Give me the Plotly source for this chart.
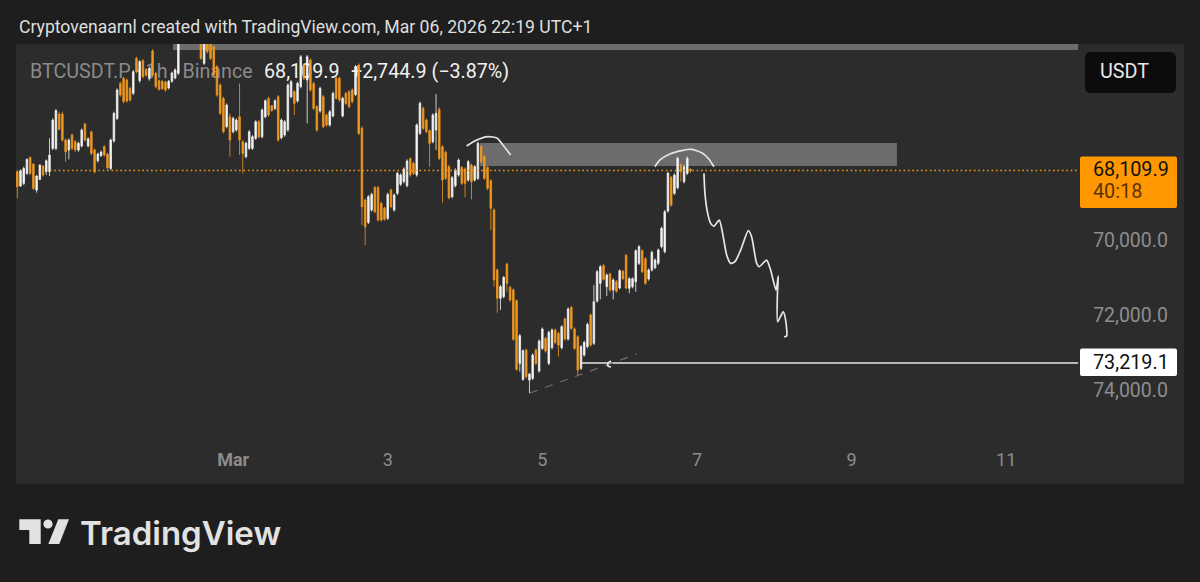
import pandas as pd
import plotly.graph_objects as go

ORANGE = "#f0981f"
WHITE = "#f2f2f2"
PANEL = "#2c2c2c"
PAGE = "#1e1e1e"
GREY = "#8c8c8c"

opens = [
    68143,68523,68452,68187,67762,67939,68630,68346,67992,68143,
    68143,67523,67523,66612,66612,67302,67568,67169,67346,67568,
    67461,66877,67461,67090,67568,67851,67718,67479,67674,68054,
    67329,66727,65798,65665,65709,65930,66063,65134,65727,65196,
    65426,65674,64939,65532,65727,65744,65762,65921,65744,65656,
    65532,64650,64500,64620,64450,64350,64400,64700,65267,64600,
    64750,64824,65355,65842,66196,66948,66683,67081,67037,66683,
    67346,67745,67523,67523,67258,66815,67214,66683,66196,66390,
    66470,66152,67240,67169,67037,66152,66019,66267,65886,65311,
    65709,65178,65798,66417,66532,66152,66638,66904,66665,65665,
    65665,66665,66063,66019,65975,66090,65311,66992,68894,69487,
    69160,68558,68558,68983,69106,69381,68629,69160,68717,68478,
    68407,68513,67797,67921,68230,67124,66460,66770,67053,67345,
    67036,66487,67478,67628,68009,68806,68513,68230,68027,68071,
    68363,67965,68363,68319,67478,67744,68027,68381,69160,70751,
    71503,71459,70592,71211,71282,71565,73229,73654,72875,73672,
    73627,72875,73433,72831,72565,73229,72813,72344,72433,72813,
    72052,72583,71742,72317,72521,73362,73008,72787,71946,72698,
    71574,71105,70636,71194,70857,71282,71061,71229,70786,70362,
    71238,71194,71061,70574,70238,70450,70990,70751,70689,70574,
    70133,70265,69186,68292,68717,68566,67964,68407,68186,68079,
]
closes = [
    68541,68116,68054,67815,68187,68585,68258,67966,68231,67851,
    67700,66771,66523,67019,67302,67612,67302,67523,67568,67390,
    67037,67302,67267,67656,68143,67674,67620,67700,68037,67302,
    66594,65975,66107,66284,66267,66240,65488,65488,65222,65621,
    65585,65399,65576,65886,65957,65939,65975,65744,65523,65444,
    64600,64500,64620,64450,64350,64400,64650,65134,64720,64957,
    65134,65576,66107,66594,67081,66373,67302,66727,66771,67302,
    67656,67390,67081,67214,66815,67214,66505,66258,66638,66523,
    66258,67302,66771,66815,65842,65753,66329,65798,65090,65665,
    65090,65975,66461,67037,65930,66948,66904,66550,66063,66196,
    66240,66196,66329,66417,66284,65355,67125,69071,69602,68806,
    68744,69204,69425,69425,69407,68744,69071,68761,68186,68230,
    68071,67859,68230,68186,66903,66328,66991,67080,67390,66637,
    66593,67788,68363,68319,68832,68301,68098,67832,68452,68452,
    67876,68407,68009,67390,67876,68319,68584,69115,71017,71503,
    71194,70946,71105,71548,72592,73388,72494,72893,73583,73512,
    73008,73229,72636,72317,72902,72406,72344,72671,72742,72256,
    72583,71786,72300,72831,73406,72787,72671,72194,72742,71592,
    70795,70663,70999,70884,71282,71017,71317,70769,70981,71229,
    70981,70981,70238,70132,70795,71105,70751,70282,70486,70220,
    69646,69203,68186,69026,68230,67787,68141,68009,67787,68110,
]
lows = [
    68099,68081,68010,67789,67745,67922,68231,67948,67966,67815,
    67258,66727,66479,66550,66550,67258,67258,67125,67302,67346,
    66992,66842,67231,67054,67523,67638,67585,67435,67638,67258,
    66550,65930,65753,65621,65665,65886,65444,65090,65178,65151,
    65399,65355,64895,65488,65691,65709,65727,65709,65488,65399,
    64500,64450,64420,64400,64300,64300,64350,64650,64680,64550,
    64650,64780,65311,65798,66152,66329,66594,66683,66727,65798,
    67302,67346,67037,67169,66771,66771,66461,66222,66152,66373,
    66222,66107,66727,66771,65798,65709,65975,65753,65045,65267,
    65045,65134,65753,66373,65886,66107,66594,66505,66019,65621,
    65621,66152,66019,65975,65930,65311,65267,66930,68850,68761,
    68699,68522,68522,68938,69071,68699,68584,68717,68142,68186,
    68027,67814,67761,67876,66859,66283,66416,66726,67018,66593,
    66080,66434,67434,67584,67965,68257,68053,67788,67991,68027,
    67832,67921,67965,67345,67434,67699,67991,68345,69115,70707,
    71149,70910,70556,71176,71238,71530,72450,72857,72831,73477,
    72963,72831,72592,72273,72521,72362,72300,72300,72388,72211,
    72008,71742,71707,72273,72477,72742,72627,72149,71902,71149,
    70751,70618,70592,70840,70822,70972,71017,70733,70751,70326,
    70946,70946,70202,70087,70202,70415,70707,70238,70441,70176,
    69602,69159,68141,68256,68186,67743,67920,67964,67743,68053,
]
highs = [
    68851,68541,68497,68231,68231,68630,68700,68364,68276,68231,
    68258,67568,67568,67037,67346,67877,67815,67568,67612,67612,
    67497,67346,67497,67700,68187,67904,67745,67745,68081,68099,
    67373,66771,66152,66329,66311,66284,66107,65532,65780,65665,
    65621,65727,65621,65930,65992,65975,66019,65957,65780,65691,
    65576,64700,64680,64700,64500,64450,64700,65178,65311,65001,
    65178,65621,66152,66638,67125,66992,67745,67125,67081,67700,
    68187,67789,67568,67568,67302,67258,67258,66727,66683,66550,
    66505,67346,67284,67214,67081,66196,66638,66311,65930,65709,
    66860,66019,66505,67081,66576,66992,66948,66948,66700,66222,
    66284,66700,66373,66461,66329,66134,67169,69559,70089,69531,
    69204,69248,69469,69469,69443,69425,69115,69204,68761,68522,
    68452,68558,68275,68230,68275,67168,67036,67124,68009,67390,
    67567,67832,68965,68363,68876,68850,68558,68275,68496,68823,
    68407,68876,68407,68363,67921,68363,68629,69691,71194,71884,
    71813,71503,71326,71592,72627,73424,73450,73689,73627,74026,
    73672,73273,73477,72875,72946,73273,72857,72716,73052,72857,
    72627,72627,72344,72875,73539,73406,73052,72831,72787,72742,
    71618,71530,71034,71441,71326,71530,71353,71264,71017,71264,
    71371,71238,71326,70618,70840,71149,71034,70795,70733,70618,
    70177,70310,69230,69071,68761,68610,68407,68451,68230,68168,
]
times = pd.date_range("2026-02-26 05:00", periods=len(opens), freq="h")

last_price = 68109.9
level_price = 73219.1
y_ticks = [70000, 72000, 74000]
x_ticks = ["2026-03-01", "2026-03-03", "2026-03-05", "2026-03-07", "2026-03-09", "2026-03-11"]
x_labels = ["<b>Mar</b>", "3", "5", "7", "9", "11"]

# hand drawn bits on the chart
arc1_t = ["2026-03-04 00:30", "2026-03-04 02:27", "2026-03-04 04:37", "2026-03-04 07:06",
          "2026-03-04 09:54", "2026-03-04 11:46", "2026-03-04 14:09"]
arc1_p = [67460, 67354, 67266, 67213, 67248, 67433, 67699]
arc2_t = ["2026-03-06 10:58", "2026-03-06 12:31", "2026-03-06 15:37", "2026-03-06 19:15",
          "2026-03-06 22:21", "2026-03-07 01:28", "2026-03-07 03:25", "2026-03-07 05:17"]
arc2_p = [68009, 67831, 67672, 67584, 67547, 67638, 67778, 68009]
path_t = ["2026-03-07 02:10", "2026-03-07 02:29", "2026-03-07 03:13", "2026-03-07 04:15",
          "2026-03-07 05:17", "2026-03-07 06:56", "2026-03-07 07:58", "2026-03-07 09:13",
          "2026-03-07 10:27", "2026-03-07 11:48", "2026-03-07 13:34", "2026-03-07 15:56",
          "2026-03-07 16:58", "2026-03-07 18:32", "2026-03-07 19:21", "2026-03-07 21:38",
          "2026-03-07 22:52", "2026-03-08 00:32", "2026-03-08 01:15", "2026-03-08 00:57",
          "2026-03-08 01:03", "2026-03-08 02:48", "2026-03-08 03:32", "2026-03-08 03:51",
          "2026-03-08 03:01"]
path_p = [68186, 68717, 69203, 69513, 69584, 69425, 69779, 70354, 70575, 70531, 70221, 69708,
          69867, 70575, 70664, 70487, 70752, 71283, 70911, 71460, 72124, 71858, 72080, 72504, 72522]
blob_t = ["2026-03-05 21:18", "2026-03-05 20:22", "2026-03-05 20:22", "2026-03-05 21:18"]
blob_p = [73166, 73219, 73299, 73325]
trend_t = ["2026-03-04 20:10", "2026-03-06 05:22"]
trend_p = [74015, 72980]
line_end = "2026-03-11 22:20"


# pixel -> paper, plot area is 16..1184 by 44..484
def px(x):
    return (x - 16) / 1168


def py(y):
    return (484 - y) / 440


def poly(points):
    return "M " + " L ".join(f"{px(x)},{py(y)}" for x, y in points) + " Z"


def rounded(x0, y0, x1, y1, r):
    a, b, c, d = px(x0), px(x1), py(y0), py(y1)
    rx, ry = r / 1168, r / 440
    return (f"M {a+rx},{c} L {b-rx},{c} Q {b},{c} {b},{c-ry} L {b},{d+ry} Q {b},{d} {b-rx},{d} "
            f"L {a+rx},{d} Q {a},{d} {a},{d+ry} L {a},{c-ry} Q {a},{c} {a+rx},{c} Z")


def pen(t, p, color="#e6e6e6", width=1.7, dash=None, spline=True):
    return go.Scatter(x=t, y=p, mode="lines", hoverinfo="skip",
                      line=dict(color=color, width=width, dash=dash,
                                shape="spline" if spline else "linear", smoothing=0.6))


fig = go.Figure()

# axis is inverted so a "rising" price draws downward: that one is the orange candle
fig.add_trace(go.Candlestick(
    x=times, open=opens, high=highs, low=lows, close=closes,
    increasing=dict(line=dict(color=ORANGE, width=0.8), fillcolor=ORANGE),
    decreasing=dict(line=dict(color=WHITE, width=0.8), fillcolor=WHITE),
    whiskerwidth=0, hoverinfo="skip",
))

fig.add_trace(pen(["2026-02-26 15:07", line_end], [last_price, last_price],
                  color=ORANGE, width=1.6, dash="1.6px,2.8px", spline=False))
fig.add_trace(pen(["2026-03-05 12:17", line_end], [level_price, level_price], spline=False))
fig.add_trace(pen(trend_t, trend_p, color="#6f6f6f", width=1.2, dash="8px,8px", spline=False))
fig.add_trace(pen(blob_t, blob_p))
fig.add_trace(pen(arc1_t, arc1_p))
fig.add_trace(pen(arc2_t, arc2_p))
fig.add_trace(pen(path_t, path_p))

shapes = [
    # zones sit under the candles
    dict(type="rect", layer="below", xref="x", yref="y", x0="2026-03-04 04:38", x1="2026-03-09 14:05",
         y0=67380, y1=67991, fillcolor="#6c6c6c", line_width=0),
    dict(type="rect", layer="below", xref="x", yref="y", x0="2026-02-28 05:20", x1=line_end,
         y0=64600, y1=64912, fillcolor="#6c6c6c", line_width=0),
    # tags
    dict(type="path", xref="paper", yref="paper", path=rounded(1085, 52, 1176, 93, 6),
         fillcolor="#0c0c0c", line_width=0),
    dict(type="path", xref="paper", yref="paper", path=rounded(1080, 156.5, 1177, 208, 2),
         fillcolor="#ff9800", line_width=0),
    dict(type="path", xref="paper", yref="paper", path=rounded(1080, 348.5, 1177, 376, 2),
         fillcolor="#ffffff", line_width=0),
    # logo
    dict(type="path", xref="paper", yref="paper", fillcolor="#e2e2e2", line_width=0,
         path=poly([(19.3, 519.3), (40.7, 519.3), (40.7, 544), (29.3, 544), (29.3, 530), (19.3, 530)])),
    dict(type="path", xref="paper", yref="paper", fillcolor="#e2e2e2", line_width=0,
         path=poly([(58.3, 519.3), (69, 519.3), (59.3, 544), (48.3, 544)])),
    dict(type="circle", xref="paper", yref="paper", fillcolor="#e2e2e2", line_width=0,
         x0=px(43.4), x1=px(52.6), y0=py(528.6), y1=py(519.4)),
]


# legend line is behind the candles, only a shape label can do that
def under(text, x0, x1, color):
    shapes.append(dict(type="rect", layer="below", xref="paper", yref="paper",
                       x0=px(x0), x1=px(x1), y0=py(82), y1=py(58),
                       fillcolor="rgba(0,0,0,0)", line_width=0,
                       label=dict(text=text, textposition="middle left", padding=0,
                                  font=dict(family="Roboto", size=19.7, color=color))))


under("BTCUSDT.P · 1h · Binance", 27, 258, "#8a8a8a")
under("68,109.9", 261, 345, "#f2f2f2")
under("+2,744.9 (−3.87%)", 348, 515, "#f2f2f2")


def note(text, x, y, size=19.8, color="#111111", family="Roboto", anchor="left", weight=None):
    return dict(text=text, xref="paper", yref="paper", x=px(x), y=py(y), xanchor=anchor,
                yanchor="middle", showarrow=False,
                font=dict(family=family, size=size, color=color, weight=weight))


notes = [
    note("Cryptovenaarnl created with TradingView.com, Mar 06, 2026 22:19 UTC+1", 17, 27,
         size=17.6, color="#dedede"),
    note("USDT", 1098, 72, color="#e8e8e8"),
    note("68,109.9", 1091, 169.5),
    note("40:18", 1091, 191, color="#5c3200"),
    note("73,219.1", 1091, 362),
    note("TradingView", 78, 533, size=33, color="#e2e2e2", family="Inter", weight=600),
]

fig.update_layout(
    width=1200, height=582, showlegend=False,
    margin=dict(l=16, r=16, t=44, b=98),
    paper_bgcolor=PAGE, plot_bgcolor=PANEL,
    shapes=shapes, annotations=notes,
    xaxis=dict(
        type="date", range=["2026-02-26 04:36", "2026-03-13 07:12"],
        rangeslider=dict(visible=False), showgrid=False, zeroline=False, showline=False,
        tickmode="array", tickvals=x_ticks, ticktext=x_labels,
        ticks="inside", ticklen=15, tickcolor="rgba(0,0,0,0)", ticklabelposition="inside",
        tickfont=dict(family="Roboto", size=18, color=GREY),
    ),
    yaxis=dict(
        range=[76430, 64753], side="right", showgrid=False, zeroline=False, showline=False,
        tickmode="array", tickvals=y_ticks, tickformat=",.1f",
        ticks="inside", ticklen=17, tickcolor="rgba(0,0,0,0)", ticklabelposition="inside",
        ticklabelshift=2,
        tickfont=dict(family="Roboto", size=19.5, color=GREY),
    ),
)

# default page has an 8px body margin
fig.write_html("out.html", config={"displayModeBar": False},
               post_script="document.body.style.margin='0';document.body.style.background='#1e1e1e';")
